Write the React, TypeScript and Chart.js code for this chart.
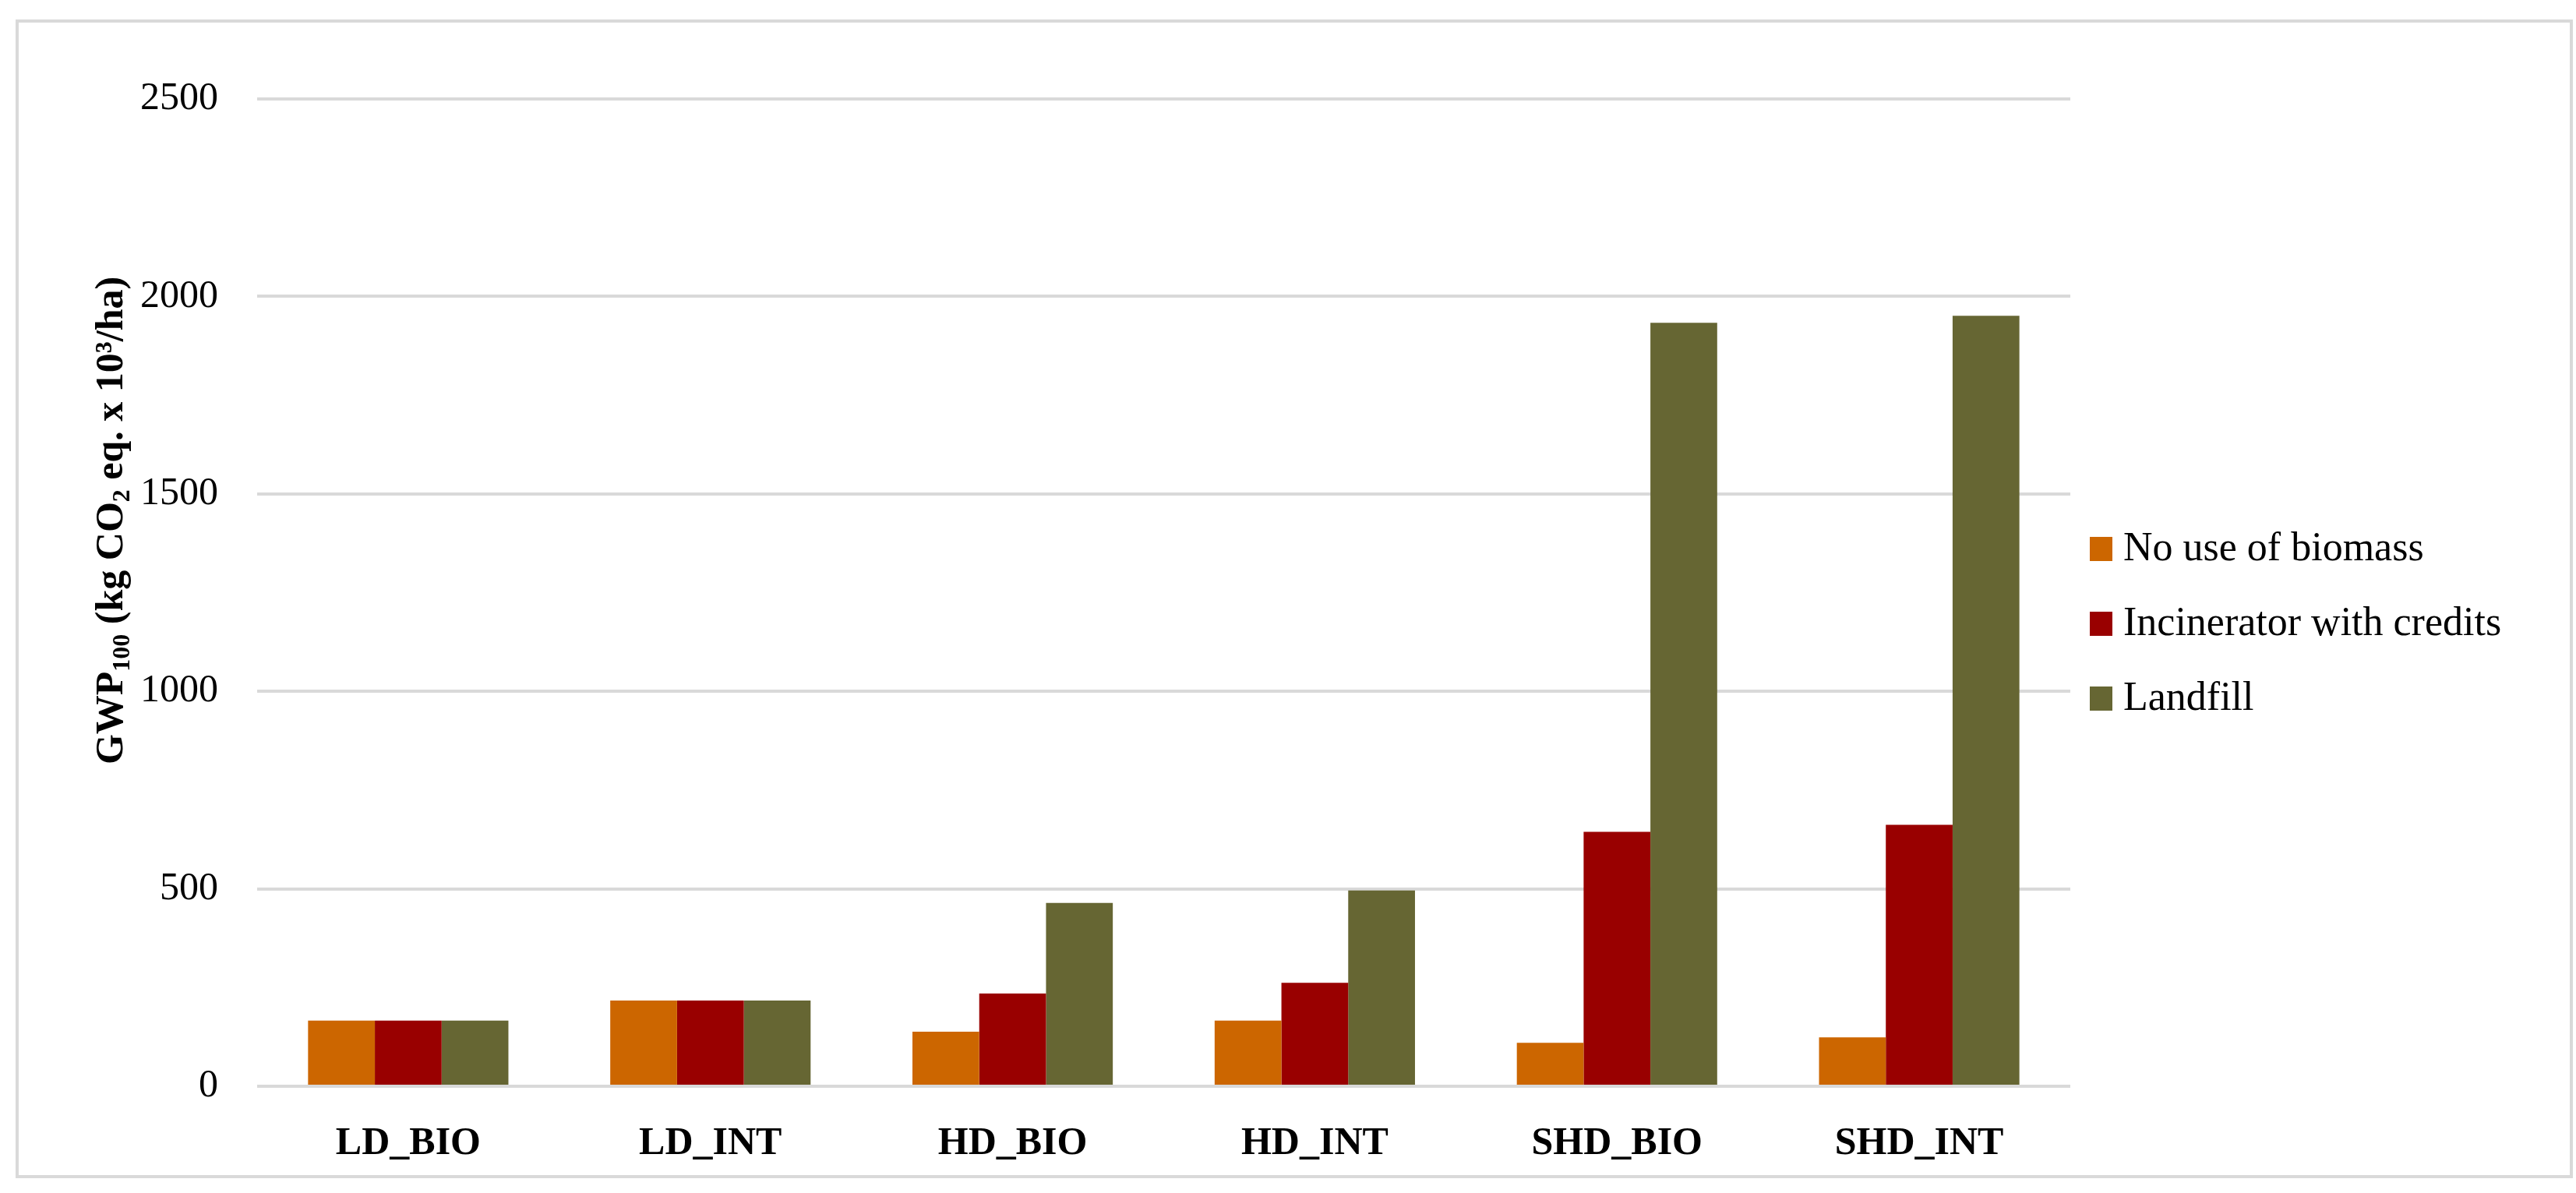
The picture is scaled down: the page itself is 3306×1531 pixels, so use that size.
import React, { useEffect, useRef } from "react";
import { Chart, registerables } from "chart.js";

Chart.register(...registerables);

const categories = ["LD_BIO", "LD_INT", "HD_BIO", "HD_INT", "SHD_BIO", "SHD_INT"];
const noUseOfBiomass = [166, 217, 138, 166, 110, 124];
const incineratorWithCredits = [166, 217, 235, 262, 644, 662];
const landfill = [166, 217, 464, 496, 1933, 1951];
const seriesNames = ["No use of biomass", "Incinerator with credits", "Landfill"];
const seriesColors = ["#CC6600", "#990000", "#666633"];
const yTicks = [0, 500, 1000, 1500, 2000, 2500];

const FONT = "'Liberation Serif', 'Times New Roman', serif";

const decorPlugin = {
  id: "decor",
  beforeDraw(chart: any) {
    const ctx = chart.ctx;
    ctx.save();
    ctx.fillStyle = "#ffffff";
    ctx.fillRect(0, 0, chart.width, chart.height);
    ctx.strokeStyle = "#d9d9d9";
    ctx.lineWidth = 4;
    ctx.strokeRect(22, 27, 3278, 1483);
    ctx.restore();
  },
  afterDraw(chart: any) {
    const ctx = chart.ctx;
    // legend
    ctx.save();
    const datasets = chart.data.datasets;
    const baselines = [719, 815, 911];
    datasets.forEach((ds: any, i: number) => {
      const b = baselines[i];
      ctx.fillStyle = ds.backgroundColor;
      ctx.fillRect(2682, b - 30, 29, 31);
      ctx.fillStyle = "#000000";
      ctx.font = `52px ${FONT}`;
      ctx.textBaseline = "alphabetic";
      ctx.textAlign = "left";
      ctx.fillText(ds.label, 2725, b);
    });
    ctx.restore();

    // y-axis title with subscripts
    ctx.save();
    const segs = [
      { t: "GWP", s: false },
      { t: "100", s: true },
      { t: " (kg CO", s: false },
      { t: "2", s: true },
      { t: " eq. x 10\u00B3/ha)", s: false },
    ];
    const big = `bold 50px ${FONT}`;
    const small = `bold 32px ${FONT}`;
    let total = 0;
    segs.forEach((sg) => {
      ctx.font = sg.s ? small : big;
      total += ctx.measureText(sg.t).width;
    });
    ctx.translate(157, 668);
    ctx.rotate(-Math.PI / 2);
    ctx.fillStyle = "#000000";
    ctx.textBaseline = "alphabetic";
    ctx.textAlign = "left";
    let x = -total / 2;
    segs.forEach((sg) => {
      ctx.font = sg.s ? small : big;
      ctx.fillText(sg.t, x, sg.s ? 9 : 0);
      x += ctx.measureText(sg.t).width;
    });
    ctx.restore();
  },
};

export default function App() {
  const canvasRef = useRef<HTMLCanvasElement | null>(null);

  useEffect(() => {
    if (!canvasRef.current) return;
    const seriesData = [noUseOfBiomass, incineratorWithCredits, landfill];
    const chart = new Chart(canvasRef.current, {
      type: "bar",
      data: {
        labels: categories,
        datasets: seriesNames.map((name, i) => ({
          label: name,
          data: seriesData[i],
          backgroundColor: seriesColors[i],
          borderWidth: 0,
          barPercentage: 1,
          categoryPercentage: 0.663,
        })),
      },
      options: {
        responsive: false,
        animation: false,
        devicePixelRatio: 1,
        layout: { padding: { left: 0, right: 649, top: 127, bottom: 0 } },
        plugins: {
          legend: { display: false },
          tooltip: { enabled: false },
          title: { display: false },
        },
        scales: {
          x: {
            grid: { display: false, drawTicks: false },
            border: { display: false },
            ticks: {
              color: "#000000",
              font: { family: FONT, size: 50, weight: "bold" },
              padding: 44,
              maxRotation: 0,
              autoSkip: false,
            },
            afterFit(scale: any) {
              scale.height = 137;
            },
          },
          y: {
            min: 0,
            max: 2500,
            afterBuildTicks(scale: any) {
              scale.ticks = yTicks.map((v) => ({ value: v }));
            },
            grid: { color: "#d9d9d9", lineWidth: 4, drawTicks: false },
            border: { display: false },
            ticks: {
              color: "#000000",
              font: { family: FONT, size: 50 },
              padding: 50,
              callback: (v: any) => String(v),
            },
            afterFit(scale: any) {
              scale.width = 330;
            },
          },
        },
      },
      plugins: [decorPlugin],
    });
    return () => chart.destroy();
  }, []);

  return (
    <div style={{ position: "absolute", left: 0, top: 0, width: 3306, height: 1531 }}>
      <canvas ref={canvasRef} width={3306} height={1531} style={{ display: "block", width: 3306, height: 1531 }} />
    </div>
  );
}
